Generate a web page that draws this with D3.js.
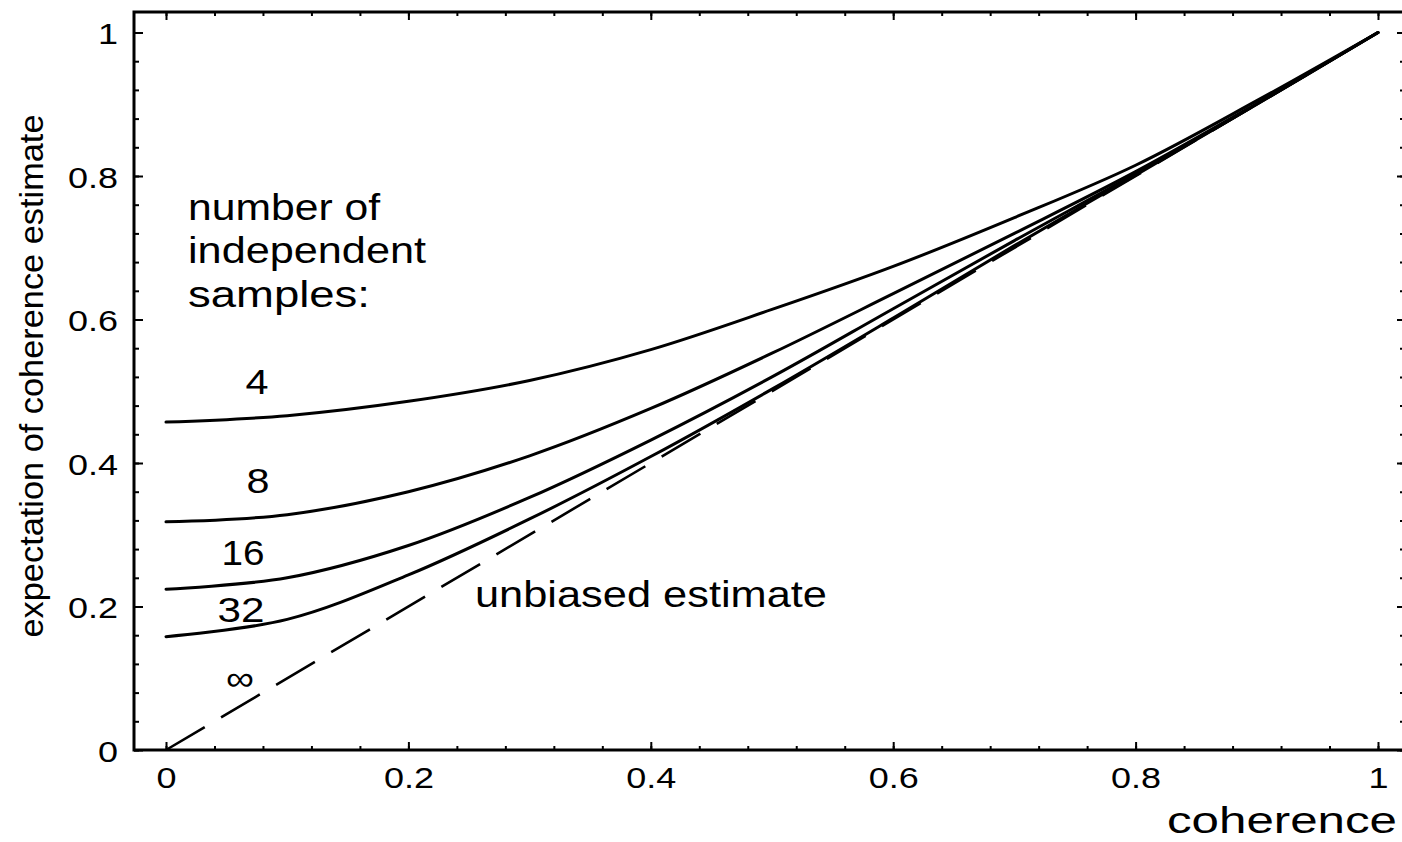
<!DOCTYPE html>
<html><head><meta charset="utf-8">
<script src="https://cdn.jsdelivr.net/npm/d3@7"></script>
<style>
body{margin:0;background:#fff}
text{font-family:"Liberation Sans",Arial,Helvetica,sans-serif;fill:#000}
</style>
</head><body>
<svg id="chart" width="1402" height="842"></svg>
<script>
// ---- data ----
const coherence = [0, 0.1, 0.2, 0.3, 0.4, 0.5, 0.6, 0.7, 0.8, 0.9, 1.0];
const samples4  = [0.457, 0.466, 0.486, 0.515, 0.558, 0.614, 0.674, 0.742, 0.815, 0.905, 1.0];
const samples8  = [0.318, 0.328, 0.360, 0.410, 0.476, 0.553, 0.636, 0.720, 0.806, 0.901, 1.0];
const samples16 = [0.224, 0.240, 0.285, 0.352, 0.432, 0.520, 0.615, 0.710, 0.803, 0.900, 1.0];
const samples32 = [0.158, 0.182, 0.244, 0.322, 0.409, 0.503, 0.602, 0.703, 0.801, 0.900, 1.0];
const unbiasedX = [0, 1];
const unbiasedY = [0, 1];
const seriesLabels = ["4", "8", "16", "32"];
const xTickValues = [0, 0.2, 0.4, 0.6, 0.8, 1];
const xTickLabels = ["0", "0.2", "0.4", "0.6", "0.8", "1"];
const yTickValues = [0, 0.2, 0.4, 0.6, 0.8, 1];
const yTickLabels = ["0", "0.2", "0.4", "0.6", "0.8", "1"];

// ---- layout ----
const svg = d3.select("#chart");
const frame = {left: 134, right: 1404, top: 12, bottom: 750};
const x = d3.scaleLinear().domain([0, 1]).range([166, 1378]);
const y = d3.scaleLinear().domain([0, 1]).range([750, 32.5]);
const xMin = x.invert(frame.left), xMax = x.invert(frame.right);
const yMax = y.invert(frame.top);
const xMinor = d3.range(-10, 30).map(i => i * 0.04).filter(v => v > xMin && v < xMax);
const yMinor = d3.range(-10, 30).map(i => i * 0.04).filter(v => v >= 0 && v < yMax);
const SX = 1.2; // horizontal stretch of the reference lettering

// frame
svg.append("rect")
  .attr("x", frame.left).attr("y", frame.top)
  .attr("width", frame.right - frame.left).attr("height", frame.bottom - frame.top)
  .attr("fill", "none").attr("stroke", "#000").attr("stroke-width", 3);

function plainTicks(g){ g.select(".domain").remove(); g.selectAll("line").attr("stroke","#000").attr("stroke-width",2); }

// bottom axis (ticks inward)
svg.append("g").attr("transform", `translate(0,${frame.bottom})`)
  .call(d3.axisBottom(x).tickValues(xMinor).tickSize(-4).tickFormat(""))
  .call(plainTicks);
const gx = svg.append("g").attr("transform", `translate(0,${frame.bottom})`)
  .call(d3.axisBottom(x).tickValues(xTickValues).tickSize(-8).tickPadding(0)
        .tickFormat((d, i) => xTickLabels[i]))
  .call(plainTicks);
gx.selectAll("text").attr("y", 0).attr("dy", 0)
  .attr("font-size", 30).attr("font-family", "Liberation Sans, Arial, sans-serif").attr("fill","#000")
  .attr("transform", `translate(0,38) scale(${SX},1)`);

// top axis
svg.append("g").attr("transform", `translate(0,${frame.top})`)
  .call(d3.axisTop(x).tickValues(xMinor).tickSize(-4).tickFormat(""))
  .call(plainTicks);
svg.append("g").attr("transform", `translate(0,${frame.top})`)
  .call(d3.axisTop(x).tickValues(xTickValues).tickSize(-8).tickFormat(""))
  .call(plainTicks);

// left axis
svg.append("g").attr("transform", `translate(${frame.left},0)`)
  .call(d3.axisLeft(y).tickValues(yMinor).tickSize(-5).tickFormat(""))
  .call(plainTicks);
const gy = svg.append("g").attr("transform", `translate(${frame.left},0)`)
  .call(d3.axisLeft(y).tickValues(yTickValues).tickSize(-9).tickPadding(0)
        .tickFormat((d, i) => yTickLabels[i]))
  .call(plainTicks);
gy.selectAll("text").attr("x", 0).attr("dy", 0).attr("text-anchor", "end")
  .attr("font-size", 30).attr("font-family", "Liberation Sans, Arial, sans-serif").attr("fill","#000")
  .attr("transform", `translate(-16,11) scale(${SX},1)`);

// right axis
svg.append("g").attr("transform", `translate(${frame.right},0)`)
  .call(d3.axisRight(y).tickValues(yMinor).tickSize(-4).tickFormat(""))
  .call(plainTicks);
svg.append("g").attr("transform", `translate(${frame.right},0)`)
  .call(d3.axisRight(y).tickValues(yTickValues).tickSize(-7).tickFormat(""))
  .call(plainTicks);

// curves
const series = [samples4, samples8, samples16, samples32];
const line = d3.line().x((d, i) => x(coherence[i])).y(d => y(d)).curve(d3.curveCatmullRom.alpha(0.5));
svg.append("g").selectAll("path").data(series).join("path")
  .attr("d", line).attr("fill", "none").attr("stroke", "#000")
  .attr("stroke-width", 3).attr("stroke-linecap", "round");

// unbiased estimate (dashed)
const dline = d3.line().x((d, i) => x(unbiasedX[i])).y(d => y(d));
svg.append("path").datum(unbiasedY).attr("d", dline)
  .attr("fill", "none").attr("stroke", "#000").attr("stroke-width", 2.6)
  .attr("stroke-dasharray", "45,19");

// text helper: text fitted to measured width
function label(txt, x0, yb, size, width, anchor){
  const t = svg.append("text").attr("x", x0).attr("y", yb)
    .attr("font-size", size).text(txt);
  if (anchor) t.attr("text-anchor", anchor);
  if (width) t.attr("textLength", width).attr("lengthAdjust", "spacingAndGlyphs");
  return t;
}
label("number of", 188, 220, 36, 192);
label("independent", 188, 263, 36, 238);
label("samples:", 188, 307, 36, 182);

// series labels
const seriesLabelPos = [[257, 394, 23], [258, 493, 23], [243, 565, 43], [241, 622, 47]];
seriesLabels.forEach((s, i) => {
  const p = seriesLabelPos[i];
  label(s, p[0], p[1], 35, p[2], "middle");
});
label("\u221E", 240, 690, 34, 28, "middle");
label("unbiased estimate", 475, 607, 37, 352);
label("coherence", 1167, 833, 36, 230);

// y axis title
svg.append("text")
  .attr("transform", "translate(43,376) rotate(-90)")
  .attr("text-anchor", "middle").attr("font-size", 33)
  .attr("textLength", 523).attr("lengthAdjust", "spacingAndGlyphs")
  .text("expectation of coherence estimate");
</script>
</body></html>
